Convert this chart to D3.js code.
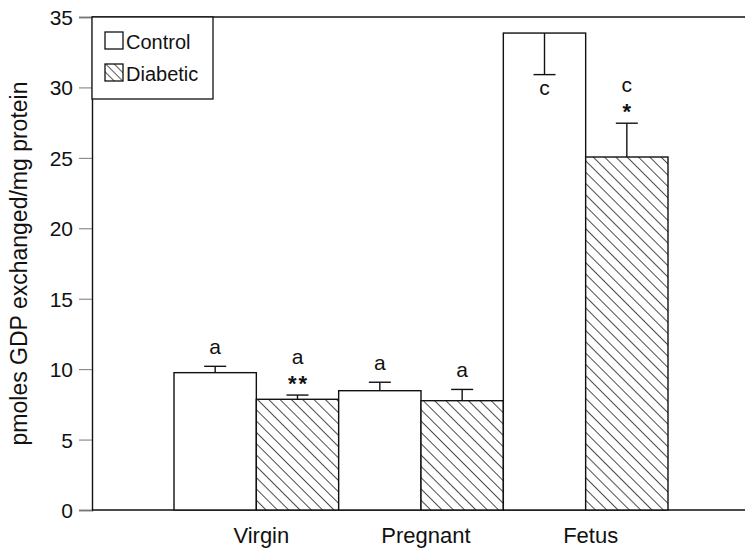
<!DOCTYPE html>
<html>
<head>
<meta charset="utf-8">
<script src="https://cdn.jsdelivr.net/npm/d3@7"></script>
<style>
  html, body { margin: 0; padding: 0; background: #fff; }
  svg { display: block; font-family: "Liberation Sans", Arial, Helvetica, sans-serif; }
</style>
</head>
<body>
<svg id="chart" width="745" height="549"></svg>
<script>
// Groups along the x axis and the two series drawn in each group
const categories = ["Virgin", "Pregnant", "Fetus"];
const series = ["Control", "Diabetic"];

// Mean GDP exchange (pmoles/mg protein) per group, one array per series
const controlValues = [9.75, 8.47, 33.86];
const diabeticValues = [7.86, 7.76, 25.06];

// Standard error for each bar
const controlErrors = [0.45, 0.6, 2.95];
const diabeticErrors = [0.3, 0.8, 2.4];

// Error bars point up except for the fetus control bar, drawn downward
const controlErrorDir = [1, 1, -1];
const diabeticErrorDir = [1, 1, 1];

// Significance letters and asterisks above each bar
const controlLetters = ["a", "a", "c"];
const diabeticLetters = ["a", "a", "c"];
const controlStars = ["", "", ""];
const diabeticStars = ["**", "", "*"];

const yTicks = [0, 5, 10, 15, 20, 25, 30, 35];
const yTitle = "pmoles GDP exchanged/mg protein";

const svg = d3.select("#chart");
const W = 745, H = 549;
const axisX = 92, plotTop = 17, plotBottom = 510;
const ink = "#111";

const rows = categories.map((c, i) => ({
  category: c,
  bars: [
    { s: "Control", v: controlValues[i], e: controlErrors[i], dir: controlErrorDir[i], letter: controlLetters[i], stars: controlStars[i] },
    { s: "Diabetic", v: diabeticValues[i], e: diabeticErrors[i], dir: diabeticErrorDir[i], letter: diabeticLetters[i], stars: diabeticStars[i] }
  ]
}));

const x = d3.scaleBand().domain(categories).range([174, 668]).padding(0);
const xs = d3.scaleBand().domain(series).range([0, x.bandwidth()]).padding(0);
const y = d3.scaleLinear().domain([0, 35]).range([plotBottom, plotTop]);

// Diagonal hatch for diabetic bars
const defs = svg.append("defs");
function hatch(id, step, width) {
  const p = defs.append("pattern")
    .attr("id", id)
    .attr("patternUnits", "userSpaceOnUse")
    .attr("width", step).attr("height", step)
    .attr("patternTransform", "rotate(-45)");
  p.append("rect").attr("width", step).attr("height", step).attr("fill", "#fff");
  p.append("line")
    .attr("x1", 0).attr("y1", 0).attr("x2", 0).attr("y2", step)
    .attr("stroke", ink).attr("stroke-width", width);
}
hatch("hatch", 8, 1.5);
hatch("hatchSmall", 6, 1.4);

const fillFor = s => s === "Diabetic" ? "url(#hatch)" : "#fff";

// Y axis with ticks to the left
const yAxis = d3.axisLeft(y).tickValues(yTicks).tickSize(13).tickPadding(6).tickFormat(d3.format("d"));
const gy = svg.append("g").attr("transform", `translate(${axisX},0)`).call(yAxis);
gy.attr("font-size", 21).attr("font-family", "Liberation Sans, Arial, sans-serif");
gy.select(".domain").attr("stroke", ink).attr("stroke-width", 1.4);
gy.selectAll(".tick line").attr("stroke", "#777").attr("stroke-width", 1);
gy.selectAll(".tick text").attr("fill", ink).attr("dy", "0.36em");

// Frame lines along the top and bottom
svg.append("line").attr("x1", axisX).attr("x2", W).attr("y1", y(35)).attr("y2", y(35))
  .attr("stroke", ink).attr("stroke-width", 1.3);
svg.append("line").attr("x1", axisX).attr("x2", W).attr("y1", y(0)).attr("y2", y(0))
  .attr("stroke", ink).attr("stroke-width", 1.3);

// Axis title
svg.append("text")
  .attr("transform", `translate(27,${(plotTop + plotBottom) / 2}) rotate(-90)`)
  .attr("text-anchor", "middle")
  .attr("font-size", 23)
  .attr("fill", ink)
  .text(yTitle);

// Bars
const groups = svg.append("g").selectAll("g")
  .data(rows).join("g")
  .attr("transform", d => `translate(${x(d.category)},0)`);

groups.selectAll("rect")
  .data(d => d.bars).join("rect")
  .attr("x", d => xs(d.s))
  .attr("width", xs.bandwidth())
  .attr("y", d => y(d.v))
  .attr("height", d => y(0) - y(d.v))
  .attr("fill", d => fillFor(d.s))
  .attr("stroke", ink)
  .attr("stroke-width", 1.4);

// Error bars
const capHalf = 11;
groups.selectAll("g.err")
  .data(d => d.bars).join("g")
  .attr("class", "err")
  .each(function (d) {
    const g = d3.select(this);
    const cx = xs(d.s) + xs.bandwidth() / 2;
    const end = y(d.v + d.dir * d.e);
    g.append("line").attr("x1", cx).attr("x2", cx).attr("y1", y(d.v)).attr("y2", end)
      .attr("stroke", ink).attr("stroke-width", 1.4);
    g.append("line").attr("x1", cx - capHalf).attr("x2", cx + capHalf).attr("y1", end).attr("y2", end)
      .attr("stroke", ink).attr("stroke-width", 1.4);
  });

// Significance labels
groups.selectAll("g.sig")
  .data(d => d.bars).join("g")
  .attr("class", "sig")
  .each(function (d) {
    const g = d3.select(this);
    const cx = xs(d.s) + xs.bandwidth() / 2;
    if (d.dir < 0) {
      // letter sits below a downward error bar
      g.append("text").attr("x", cx).attr("y", y(d.v - d.e) + 20)
        .attr("text-anchor", "middle").attr("font-size", 21).attr("fill", ink).text(d.letter);
      return;
    }
    const cap = y(d.v + d.e);
    if (d.stars) {
      g.append("text").attr("x", cx + 1).attr("y", cap - 4)
        .attr("text-anchor", "middle").attr("font-size", 22).attr("font-weight", "bold")
        .attr("letter-spacing", 2).attr("fill", ink).text(d.stars);
      g.append("text").attr("x", cx).attr("y", cap - 31)
        .attr("text-anchor", "middle").attr("font-size", 21).attr("fill", ink).text(d.letter);
    } else {
      g.append("text").attr("x", cx).attr("y", cap - 12)
        .attr("text-anchor", "middle").attr("font-size", 21).attr("fill", ink).text(d.letter);
    }
  });

// Category labels
svg.append("g").selectAll("text")
  .data(categories).join("text")
  .attr("x", d => x(d) + x.bandwidth() / 2)
  .attr("dx", 5)
  .attr("y", 543)
  .attr("text-anchor", "middle")
  .attr("font-size", 22)
  .attr("fill", ink)
  .text(d => d);

// Legend
const legend = svg.append("g");
legend.append("rect").attr("x", axisX).attr("y", plotTop).attr("width", 121).attr("height", 82)
  .attr("fill", "#fff").attr("stroke", ink).attr("stroke-width", 1.3);
const li = legend.selectAll("g.item").data(series).join("g")
  .attr("class", "item")
  .attr("transform", (d, i) => `translate(105,${32 + i * 32})`);
li.append("rect").attr("width", 18).attr("height", 17)
  .attr("fill", d => d === "Diabetic" ? "url(#hatchSmall)" : "#fff")
  .attr("stroke", ink).attr("stroke-width", 1.3);
li.append("text").attr("x", 21).attr("y", 17).attr("font-size", 20).attr("fill", ink).text(d => d);
</script>
</body>
</html>
